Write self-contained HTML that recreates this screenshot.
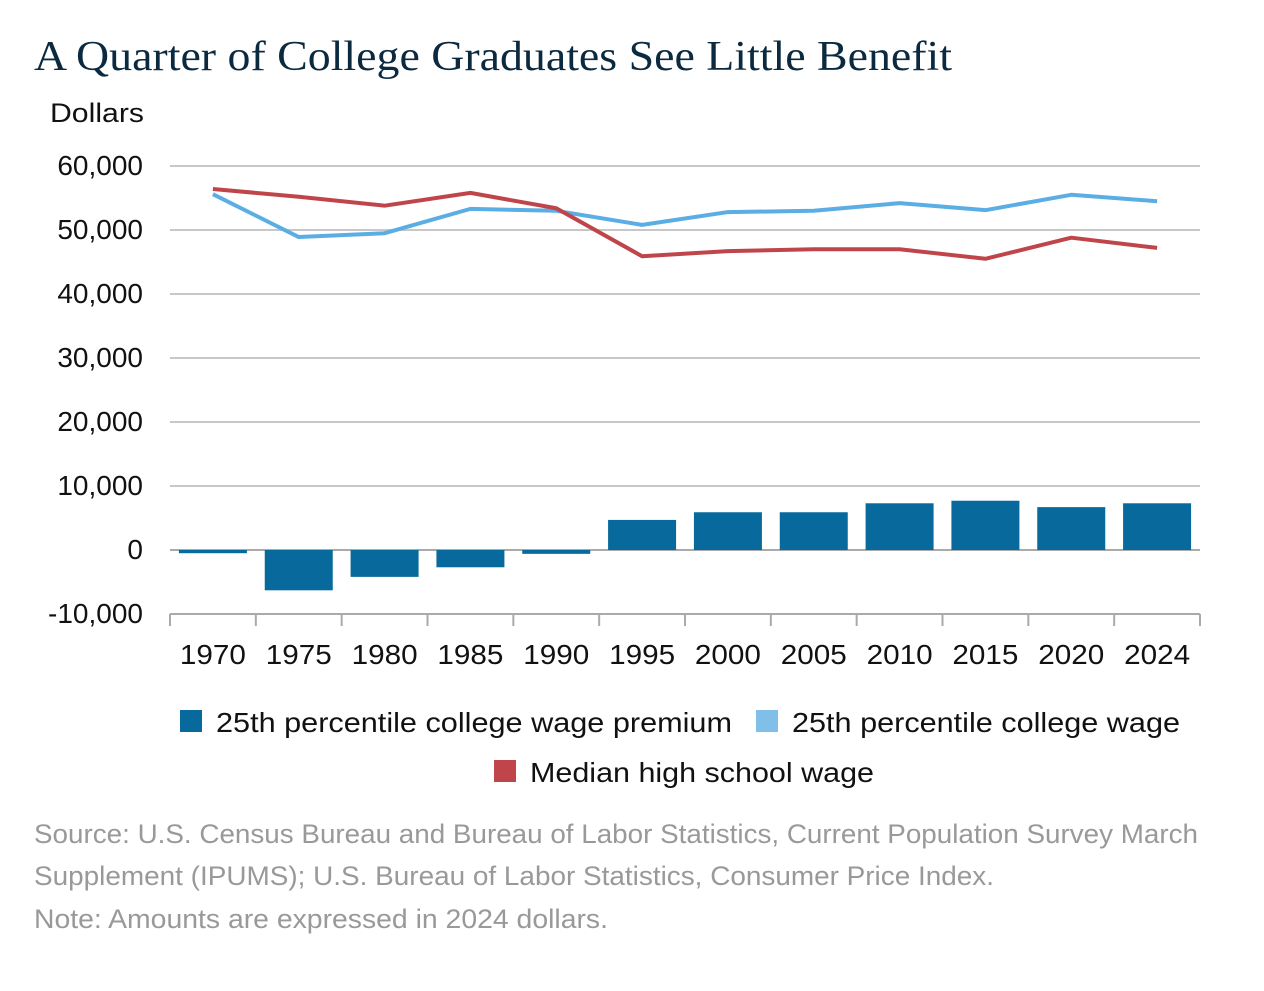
<!DOCTYPE html>
<html><head><meta charset="utf-8">
<style>
body{margin:0;background:#fff;width:1264px;height:986px;overflow:hidden}
svg text{font-family:"Liberation Sans",Arial,sans-serif}
</style></head>
<body>
<svg id="chart" width="1264" height="986" xmlns="http://www.w3.org/2000/svg">
<text x="34" y="70" font-size="42" fill="#0b2a40" textLength="918" lengthAdjust="spacingAndGlyphs" style="font-family:'Liberation Serif',serif">A Quarter of College Graduates See Little Benefit</text>
<text x="50" y="122" font-size="27" fill="#111" textLength="94" lengthAdjust="spacingAndGlyphs">Dollars</text>
<g id="grid"></g><g id="bars"></g><g id="lines"></g><g id="xaxis"></g>
<g>
<rect x="180" y="710" width="22" height="22" fill="#086a9c"/>
<text x="216" y="732" font-size="28" fill="#111" textLength="516" lengthAdjust="spacingAndGlyphs">25th percentile college wage premium</text>
<rect x="756" y="710" width="22" height="22" fill="#80bfe8"/>
<text x="792" y="732" font-size="28" fill="#111" textLength="388" lengthAdjust="spacingAndGlyphs">25th percentile college wage</text>
<rect x="494" y="760" width="22" height="22" fill="#c0454a"/>
<text x="530" y="782" font-size="28" fill="#111" textLength="344" lengthAdjust="spacingAndGlyphs">Median high school wage</text>
</g>
<g fill="#999" font-size="27">
<text x="34" y="843" textLength="1164" lengthAdjust="spacingAndGlyphs">Source: U.S. Census Bureau and Bureau of Labor Statistics, Current Population Survey March</text>
<text x="34" y="885" textLength="960" lengthAdjust="spacingAndGlyphs">Supplement (IPUMS); U.S. Bureau of Labor Statistics, Consumer Price Index.</text>
<text x="34" y="928" textLength="574" lengthAdjust="spacingAndGlyphs">Note: Amounts are expressed in 2024 dollars.</text>
</g>
</svg>
<script>
const categories=["1970","1975","1980","1985","1990","1995","2000","2005","2010","2015","2020","2024"];
const premium=[-500,-6300,-4200,-2700,-600,4700,5900,5900,7300,7700,6700,7300];
const collegeWage=[55600,48900,49500,53300,53000,50800,52800,53000,54200,53100,55500,54500];
const hsWage=[56400,55200,53800,55800,53400,45900,46700,47000,47000,45500,48800,47200];
const yTicks=[60000,50000,40000,30000,20000,10000,0,-10000];
const tickLabels=["60,000","50,000","40,000","30,000","20,000","10,000","0","-10,000"];
const NS="http://www.w3.org/2000/svg";
const x0=170,x1=1200,step=(x1-x0)/categories.length;
const y=v=>550-v*0.0064;
const xc=i=>x0+step*(i+0.5);
function mk(t,a,p){const e=document.createElementNS(NS,t);for(const k in a)e.setAttribute(k,a[k]);document.getElementById(p).appendChild(e);return e;}
yTicks.forEach((v,i)=>{
 const l=mk('line',{x1:x0,x2:x1,y1:y(v),y2:y(v),stroke:v===0?'#aaa':'#c8c8c8','stroke-width':2},'grid');
 
 
 const t=mk('text',{x:143,y:y(v)+9,'font-size':28,'text-anchor':'end',fill:'#111'},'grid');
 t.textContent=tickLabels[i];
 
 
});
premium.forEach((v,i)=>{
 const r=mk('rect',{x:xc(i)-34,width:68,y:Math.min(y(v),y(0)),height:Math.abs(y(v)-y(0)),fill:'#086a9c'},'bars');
 
 
});
function line(data,color,name){
 const p=mk('polyline',{points:data.map((v,i)=>xc(i)+','+y(v)).join(' '),fill:'none',stroke:color,'stroke-width':4,'stroke-linejoin':'round'},'lines');
 
 
}
line(collegeWage,'#5aaee3','college-wage-line');
line(hsWage,'#c0454a','high-school-wage-line');
const ax=mk('line',{x1:x0,x2:x1,y1:614,y2:614,stroke:'#aaa','stroke-width':2},'xaxis');


for(let i=0;i<=categories.length;i++){
 const tk=mk('line',{x1:x0+step*i,x2:x0+step*i,y1:614,y2:626,stroke:'#aaa','stroke-width':2},'xaxis');
 
 
}
categories.forEach((c,i)=>{
 const t=mk('text',{x:xc(i),y:664,'font-size':28,'text-anchor':'middle',fill:'#111',textLength:66,lengthAdjust:'spacingAndGlyphs'},'xaxis');
 t.textContent=c;
 
 
});
</script>
</body></html>
